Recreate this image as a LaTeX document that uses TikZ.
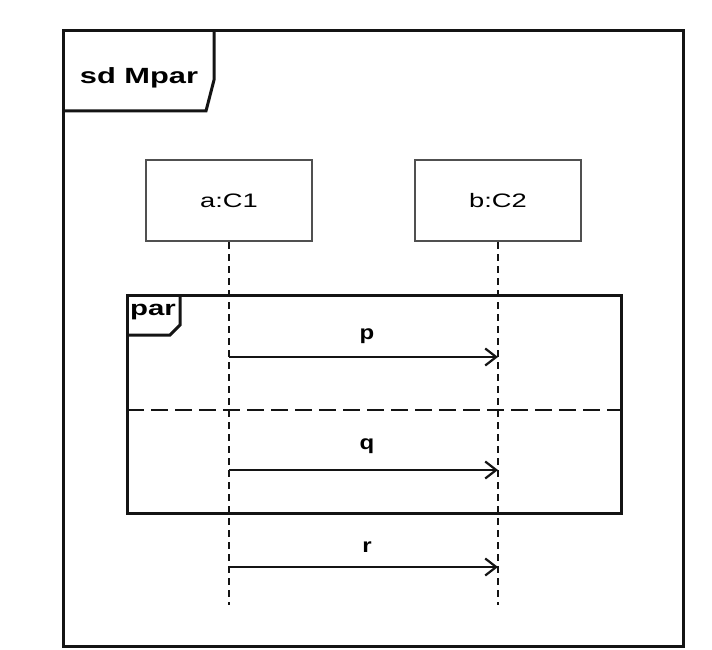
\documentclass[tikz,border=0pt]{standalone}
\usepackage{fontspec}
\setmainfont{Liberation Sans}
\newfontfamily\lbl[FakeStretch=1.4]{Liberation Sans}
\newfontfamily\lblw[FakeStretch=1.2]{Liberation Sans}
\usetikzlibrary{arrows.meta}
\definecolor{ink}{HTML}{141414}
\definecolor{boxline}{HTML}{505050}
\tikzset{
  frameline/.style={draw=ink, line width=3pt, line join=miter},
  lifebox/.style={draw=boxline, line width=2pt, minimum width=166pt, minimum height=81pt, inner sep=0pt, font=\lbl\fontsize{19.5}{19.5}\selectfont},
  lifeline/.style={draw=ink, line width=2pt, dash pattern=on 7pt off 5pt},
  msg/.style={draw=ink, line width=2.3pt, -{Straight Barb[length=11pt,width=17pt,line width=2.2pt]}},
  msglabel/.style={font=\lblw\bfseries\fontsize{20}{20}\selectfont, inner sep=0pt},
  taglabel/.style={font=\lbl\bfseries\fontsize{22}{22}\selectfont, inner sep=0pt}
}
\begin{document}
\begin{tikzpicture}[x=1pt,y=-1pt]
\useasboundingbox[fill=white] (0,0) rectangle (712,650);
% outer frame
\draw[frameline] (63,31) rectangle (683,646);
\draw[frameline] (214,31) -- (214,80) -- (206,111) -- (63,111);
\node[taglabel] (sd) at (139,78) {sd Mpar};
% lifeline heads
\node[lifebox] (a) at (229,200.5) {a:C1};
\node[lifebox] (b) at (498,200.5) {b:C2};
\coordinate (aend) at (a.south |- 0,605);
\coordinate (bend) at (b.south |- 0,605);
\draw[lifeline] (a.south) -- (aend);
\draw[lifeline] (b.south) -- (bend);
% par fragment
\draw[frameline] (127,295) rectangle (621,513);
\draw[frameline] (180,295) -- (180,325) -- (170,335) -- (127,335);
\node[font=\lbl\bfseries\fontsize{21}{21}\selectfont, inner sep=0pt] (par) at (153,312) {par};
\draw[draw=ink, line width=2.8pt, dash pattern=on 17pt off 7pt] (127,410) -- (621,410);
% messages
\coordinate (ap) at (a.south |- 0,357);
\coordinate (bp) at (b.south |- 0,357);
\coordinate (aq) at (a.south |- 0,470);
\coordinate (bq) at (b.south |- 0,470);
\coordinate (ar) at (a.south |- 0,567);
\coordinate (br) at (b.south |- 0,567);
\draw[msg] (ap) -- (bp);
\draw[msg] (aq) -- (bq);
\draw[msg] (ar) -- (br);
\node[msglabel] (lp) at (367,336) {p};
\node[msglabel] (lq) at (367,446) {q};
\node[msglabel] (lr) at (367,547) {r};
\end{tikzpicture}
\end{document}
